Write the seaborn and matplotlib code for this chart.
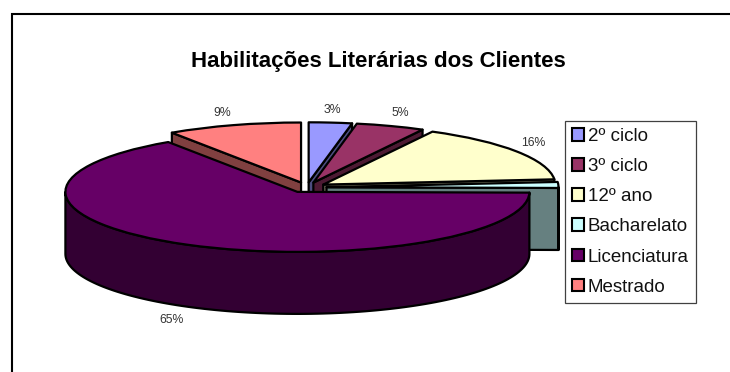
import numpy as np
import matplotlib
matplotlib.use("Agg")
import matplotlib.pyplot as plt
from matplotlib.lines import Line2D
import seaborn as sns

categories = ["2º ciclo", "3º ciclo", "12º ano", "Bacharelato", "Licenciatura", "Mestrado"]
values = [3.0, 4.8, 15.8, 1.6, 65.4, 9.4]
colors = ["#9999FF", "#993366", "#FFFFCC", "#CCFFFF", "#660066", "#FF8080"]
title = "Habilitações Literárias dos Clientes"
pct_labels = {"2º ciclo": "3%", "3º ciclo": "5%", "12º ano": "16%", "Licenciatura": "65%", "Mestrado": "9%"}

W, H = 730, 372
CX, CY, RX, RY, DEPTH = 306.8, 187.4, 232, 60, 62
EXPLODE = 0.085
LW = 1.6

sns.set_theme(style="white")
plt.rcParams["font.family"] = ["Liberation Sans", "DejaVu Sans"]
fig = plt.figure(figsize=(W / 100, H / 100), dpi=100, facecolor="white")
ax = fig.add_axes([0, 0, 1, 1])
wedges, _ = ax.pie(values, colors=colors, startangle=90, counterclock=False,
                   explode=[EXPLODE] * len(values),
                   wedgeprops=dict(edgecolor="black", linewidth=LW))
ax.set_aspect("auto")
ax.set_xlim(-CX / RX, (W - CX) / RX)
ax.set_ylim((CY - H) / RY, CY / RY)
ax.axis("off")
d = DEPTH / RY

def dark(c):
    r = matplotlib.colors.to_rgb(c)
    return tuple(v * 0.5 for v in r)

edges = np.cumsum([0] + values) / sum(values) * 2 * np.pi
order = [5, 0, 1, 2, 3, 4]
z = 2
for i in order:
    t1, t2 = edges[i], edges[i + 1]
    mid = (t1 + t2) / 2
    ox, oy = EXPLODE * np.sin(mid), EXPLODE * np.cos(mid)
    dc = dark(colors[i])
    faces = []
    for t, vis in ((t1, np.sin(t1) < -1e-6), (t2, np.sin(t2) > 1e-6)):
        if vis:
            px, py = ox + np.sin(t), oy + np.cos(t)
            faces.append(([ox, px, px, ox], [oy, py, py - d, oy - d]))
    lo, hi = max(t1, np.pi / 2), min(t2, 3 * np.pi / 2)
    if hi > lo:
        tt = np.linspace(lo, hi, 120)
        xs, ys = ox + np.sin(tt), oy + np.cos(tt)
        faces.append((np.r_[xs, xs[::-1]], np.r_[ys, ys[::-1] - d]))
    for fx, fy in faces:
        ax.fill(fx, fy, facecolor=dc, edgecolor="black", linewidth=LW, zorder=z, joinstyle="round")
        z += 1
    wedges[i].set_zorder(z)
    wedges[i].set_joinstyle("round")
    z += 1

def px_text(x, y, s, **kw):
    fig.text(x / W, 1 - y / H, s, ha="center", va="center", **kw)

px_text(378.5, 61.5, title, fontsize=16, fontweight="bold", color="black")
label_pos = {"2º ciclo": (332, 110), "3º ciclo": (400, 113), "12º ano": (533, 143),
             "Licenciatura": (172, 320), "Mestrado": (222, 113)}
for cat, s in pct_labels.items():
    px_text(*label_pos[cat], s, fontsize=8.8, color="#333333")

leg = ax.legend(wedges, categories, loc="upper left",
                bbox_to_anchor=(564.5 / W, 1 - 120.5 / H), bbox_transform=fig.transFigure,
                fontsize=13.5, labelcolor="#111111", frameon=True, fancybox=False, framealpha=1,
                edgecolor="#404040", borderaxespad=0, borderpad=0.4, labelspacing=0.7,
                handlelength=0.66, handleheight=0.66, handletextpad=0.18)
leg.get_frame().set_linewidth(0.9)
leg.set_zorder(100)
for h in leg.get_patches():
    h.set_linewidth(1.5)

fig.add_artist(Line2D([11.7 / W, 11.7 / W, 1], [0, 1 - 14 / H, 1 - 14 / H], transform=fig.transFigure,
                      color="black", linewidth=1.5, solid_joinstyle="miter"))
fig.savefig("out.png", dpi=100)
